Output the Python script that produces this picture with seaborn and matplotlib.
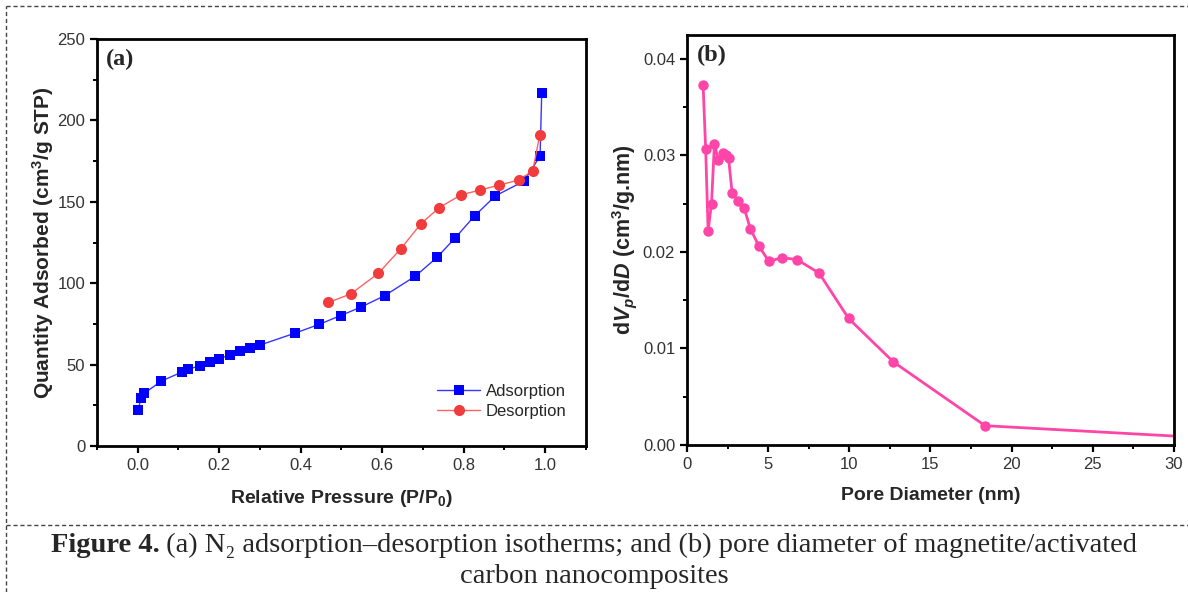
import matplotlib
matplotlib.use("Agg")
import matplotlib.pyplot as plt
from matplotlib.lines import Line2D
from matplotlib.ticker import MultipleLocator, AutoMinorLocator
import pandas as pd
import seaborn as sns

# (a) N2 isotherm
ads_p = [0.001, 0.008, 0.016, 0.058, 0.109, 0.124, 0.152, 0.177, 0.200, 0.226,
         0.250, 0.276, 0.300, 0.387, 0.445, 0.498, 0.547, 0.606, 0.682, 0.735,
         0.780, 0.827, 0.878, 0.949, 0.988, 0.992]
ads_q = [22.1, 29.7, 32.4, 39.9, 45.5, 47.1, 49.3, 51.8, 53.6, 55.9,
         58.1, 60.0, 62.0, 69.4, 74.7, 80.1, 85.2, 92.3, 104.4, 115.9,
         128.0, 141.3, 153.6, 162.8, 178.1, 216.6]
des_p = [0.987, 0.970, 0.936, 0.888, 0.841, 0.795, 0.740, 0.695, 0.646, 0.591,
         0.523, 0.468]
des_q = [190.8, 169.1, 163.4, 160.3, 157.2, 154.4, 146.4, 136.4, 121.2, 106.1,
         93.4, 88.2]

# (b) pore size distribution
pore_d = [0.99, 1.15, 1.30, 1.51, 1.69, 1.92, 2.22, 2.38, 2.56, 2.78, 3.13,
          3.53, 3.90, 4.43, 5.05, 5.84, 6.78, 8.14, 9.96, 12.72, 18.37, 31.5]
pore_dv = [0.0373, 0.0306, 0.0222, 0.0250, 0.0312, 0.0295, 0.0302, 0.0300,
           0.0297, 0.0261, 0.0253, 0.0245, 0.0224, 0.0206, 0.0190, 0.0194,
           0.0192, 0.0178, 0.0131, 0.0086, 0.0020, 0.00079]

caption_bold = "Figure 4."
caption_rest = " (a) N\u2082 adsorption\u2013desorption isotherms; and (b) pore diameter of magnetite/activated"
caption_line2 = "carbon nanocomposites"

sns.set_theme(style="ticks")
plt.rcParams['font.family'] = ['Liberation Sans', 'DejaVu Sans']
plt.rcParams.update({
    'mathtext.fontset': 'custom',
    'mathtext.rm': 'Liberation Sans',
    'mathtext.it': 'Liberation Sans:italic',
    'mathtext.bf': 'Liberation Sans:bold',
    'mathtext.bfit': 'Liberation Sans:bold:italic',
    'axes.edgecolor': 'black',
    'axes.linewidth': 2.0,
    'xtick.color': 'black',
    'ytick.color': 'black',
    'xtick.labelcolor': '#333333',
    'ytick.labelcolor': '#333333',
    'xtick.direction': 'out',
    'ytick.direction': 'out',
    'xtick.major.size': 5, 'ytick.major.size': 5,
    'xtick.minor.size': 3, 'ytick.minor.size': 3,
    'xtick.major.width': 1.6, 'ytick.major.width': 1.6,
    'xtick.minor.width': 1.4, 'ytick.minor.width': 1.4,
    'xtick.labelsize': 12, 'ytick.labelsize': 12,
})

fig = plt.figure(figsize=(11.88, 5.92), dpi=100)
ax1 = fig.add_axes([0.0817, 0.2466, 0.4113, 0.6875])
ax2 = fig.add_axes([0.5783, 0.2483, 0.4097, 0.6934])

ads = pd.DataFrame({'p': ads_p, 'q': ads_q})
des = pd.DataFrame({'p': des_p, 'q': des_q})
psd = pd.DataFrame({'d': pore_d, 'dv': pore_dv})

sns.lineplot(data=ads, x='p', y='q', ax=ax1, color='#3535ff', lw=1.0,
             marker='s', markersize=7.5, markerfacecolor='#0000ff',
             markeredgecolor='#0000ff', markeredgewidth=0, label='Adsorption')
sns.lineplot(data=des, x='p', y='q', ax=ax1, color='#ff6060', lw=1.0,
             marker='o', markersize=8, markerfacecolor='#f03c3c',
             markeredgecolor='#f03c3c', markeredgewidth=0, label='Desorption')

ax1.set_xlim(-0.1, 1.1)
ax1.set_ylim(0, 250)
ax1.xaxis.set_major_locator(MultipleLocator(0.2))
ax1.xaxis.set_minor_locator(AutoMinorLocator(2))
ax1.yaxis.set_major_locator(MultipleLocator(50))
ax1.yaxis.set_minor_locator(AutoMinorLocator(2))
ax1.set_xlabel(r"Relative Pressure (P/P$_\mathbf{0}$)", fontsize=14,
               fontweight='bold', labelpad=11)
ax1.set_ylabel(r"Quantity Adsorbed (cm$^\mathbf{3}$/g STP)", fontsize=15,
               fontweight='bold', labelpad=1)
ax1.text(0.018, 0.975, "(a)", transform=ax1.transAxes, ha='left', va='top',
         fontsize=17.5, fontweight='bold', family=['Liberation Serif', 'DejaVu Serif'])
ax1.legend(loc='lower right', bbox_to_anchor=(0.975, 0.05), frameon=False,
           fontsize=12, handlelength=2.6, handletextpad=0.35, labelspacing=0.3,
           borderaxespad=0)

sns.lineplot(data=psd, x='d', y='dv', ax=ax2, color='#ff45a8', lw=2.0,
             marker='o', markersize=7.5, markerfacecolor='#ff45a8',
             markeredgecolor='#ff45a8', markeredgewidth=0)
ax2.set_xlim(0, 30)
ax2.set_ylim(0, 0.0425)
ax2.xaxis.set_major_locator(MultipleLocator(5))
ax2.xaxis.set_minor_locator(AutoMinorLocator(2))
ax2.yaxis.set_major_locator(MultipleLocator(0.01))
ax2.yaxis.set_minor_locator(AutoMinorLocator(2))
ax2.yaxis.set_major_formatter(lambda v, pos: f"{v:.2f}")
ax2.set_xlabel("Pore Diameter (nm)", fontsize=14, fontweight='bold', labelpad=11)
ax2.set_ylabel(r"d$\mathbfit{V}_{\mathbfit{p}}$/d$\mathbfit{D}$ (cm$^\mathbf{3}$/g.nm)",
               fontsize=15.5, fontweight='bold', labelpad=3)
ax2.text(0.02, 0.975, "(b)", transform=ax2.transAxes, ha='left', va='top',
         fontsize=17.5, fontweight='bold', family=['Liberation Serif', 'DejaVu Serif'])

for ax in (ax1, ax2):
    for s in ax.spines.values():
        s.set_visible(True)
    ax.tick_params(top=False, right=False, which='both')

# dashed frame
dash = dict(color='#444444', lw=1.0, ls=(0, (3, 2)))
fig.add_artist(Line2D([0.005, 1.0], [0.9899, 0.9899], transform=fig.transFigure, **dash))
fig.add_artist(Line2D([0.005, 0.005], [0.0, 0.9899], transform=fig.transFigure, **dash))
fig.add_artist(Line2D([0.005, 1.0], [0.1132, 0.1132], transform=fig.transFigure, **dash))

# caption
serif = ['Liberation Serif', 'DejaVu Serif']
cap_size = 20.5
t1 = fig.text(0, 0.068, caption_bold, fontsize=cap_size, fontweight='bold',
              family=serif, ha='left', va='baseline')
t2 = fig.text(0, 0.068, caption_rest, fontsize=cap_size, family=serif,
              ha='left', va='baseline')
renderer = fig.canvas.get_renderer()
w1 = t1.get_window_extent(renderer).width
w2 = t2.get_window_extent(renderer).width
x0 = (1188 - w1 - w2) / 2
t1.set_x(x0 / 1188)
t2.set_x((x0 + w1) / 1188)
fig.text(0.5, 0.015, caption_line2, fontsize=cap_size, family=serif,
         ha='center', va='baseline')

fig.savefig("out.png", dpi=100)
